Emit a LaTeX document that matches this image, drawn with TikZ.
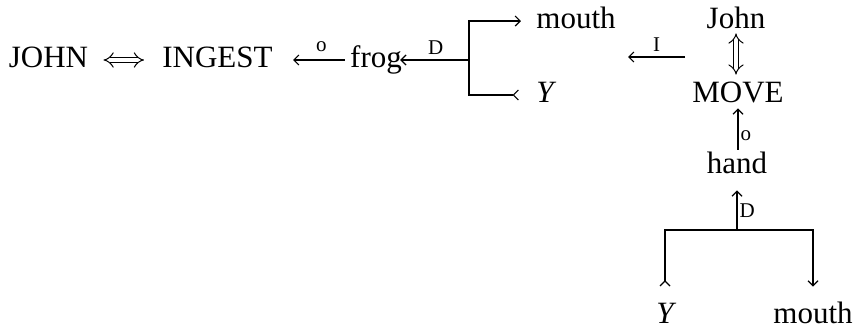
\documentclass[tikz,border=0pt]{standalone}
\usepackage{fontspec}
\setmainfont{Liberation Serif}
\usetikzlibrary{arrows.meta}
\begin{document}
\begin{tikzpicture}[x=0.5pt,y=-0.5pt,
  word/.style={inner sep=0pt, text height=7pt, text depth=0pt, anchor=base, font=\fontsize{15.5}{18}\selectfont},
  lab/.style={inner sep=1pt, font=\fontsize{10.5}{12}\selectfont},
  ln/.style={line width=0.6pt},
  arr/.style={ln, -{Straight Barb[length=2.5pt,width=5pt]}},
  fromarr/.style={ln, -{Straight Barb[length=2.5pt,width=5pt,reversed]}},
  dbl/.style={line width=0.5pt, double distance=2.2pt, {Implies}-{Implies}},
]
\useasboundingbox (0,0) rectangle (861,328);

% nodes
\node[word] (JOHN)   at (48.5,67) {JOHN};
\node[word] (INGEST) at (217.5,67) {INGEST};
\node[word] (frog)   at (376,67) {frog};
\node[word] (mouthA) at (576,28) {mouth};
\node[word] (YA)     at (545,102) {\itshape Y};
\node[word] (John)   at (736,28) {John};
\node[word] (MOVE)   at (738,102) {MOVE};
\node[word] (hand)   at (737,173) {hand};
\node[word] (YB)     at (665,323) {\itshape Y};
\node[word] (mouthB) at (813,323) {mouth};

\coordinate (jA) at (469,60);
\coordinate (jB) at (737,230);
\coordinate (Itail) at (685,57);
\coordinate (Ihead) at (628,57);

% main row
\draw[dbl, shorten <=7.5pt, shorten >=9pt] (JOHN.east) -- (INGEST.west);
\draw[arr, shorten <=2.5pt, shorten >=10pt] (frog.west) -- node[lab, above, pos=0.37, yshift=3pt] {o} (INGEST.east);
\draw[arr, shorten >=-1pt] (jA) -- node[lab, above, yshift=1.5pt] {D} (frog.east);

% top bracket
\draw[arr, shorten >=7.5pt] (jA) |- (mouthA.west);
\draw[fromarr, shorten >=8.5pt] (jA) |- (YA.west);

% instrument arrow
\draw[arr] (Itail) -- node[lab, above, yshift=1.5pt] {I} (Ihead);

% right column
\draw[dbl, shorten <=2.5pt, shorten >=6.5pt] (John.south) -- (John.south |- MOVE.north);
\draw[arr, shorten <=4.5pt, shorten >=3pt] (hand.north -| MOVE.south) -- node[lab, right, pos=0.4] {o} (MOVE.south);
\draw[arr, shorten >=8.5pt] (jB) -- node[lab, right, pos=0.35] {D} (jB |- hand.south);

% bottom bracket
\draw[fromarr, shorten >=11pt] (jB) -| (YB.north);
\draw[arr, shorten >=11pt] (jB) -| (mouthB.north);
\end{tikzpicture}
\end{document}
